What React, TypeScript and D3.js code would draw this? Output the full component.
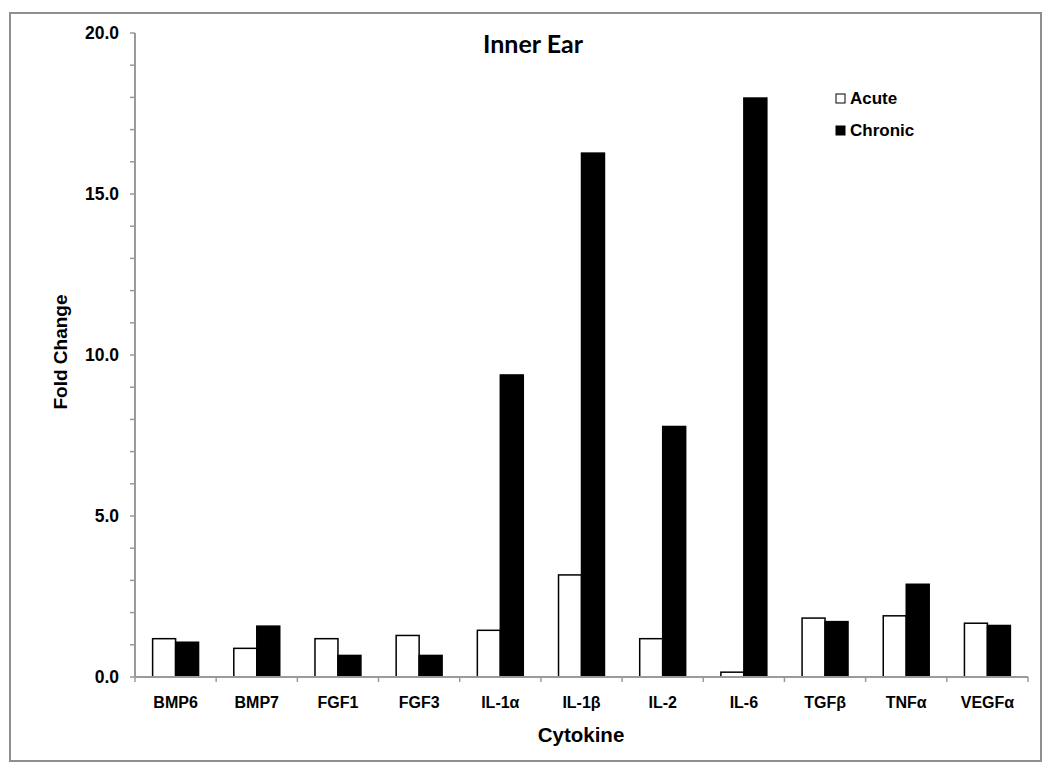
import React from "react";
import * as d3 from "d3";

const categories = ["BMP6", "BMP7", "FGF1", "FGF3", "IL-1α", "IL-1β", "IL-2", "IL-6", "TGFβ", "TNFα", "VEGFα"];
const acute = [1.19, 0.89, 1.19, 1.29, 1.45, 3.17, 1.19, 0.15, 1.83, 1.9, 1.67];
const chronic = [1.08, 1.58, 0.67, 0.67, 9.38, 16.27, 7.78, 17.98, 1.72, 2.88, 1.6];
const yTickLabels = [0, 5, 10, 15, 20];
const seriesNames = ["Acute", "Chronic"];

const W = 1050;
const H = 773;
const M = { left: 135, right: 1028, top: 33, bottom: 677 };

export default function App() {
  const x = d3.scaleBand<string>().domain(categories).range([M.left, M.right]).paddingInner(0).paddingOuter(0);
  const y = d3.scaleLinear().domain([0, 20]).range([M.bottom, M.top]);
  const bw = x.bandwidth();
  const barW = bw * 0.283;
  const off = (bw - 2 * barW) / 2;
  const minor = d3.range(0, 21, 1);
  const axisColor = "#9a9a9a";
  const tickFont = "'Liberation Sans', Arial, sans-serif";
  const titleFont = "Lato, 'Open Sans', sans-serif";

  return (
    <svg width={W} height={H} style={{ position: "absolute", left: 0, top: 0 }} fontFamily={tickFont}>
      <rect x={0} y={0} width={W} height={H} fill="#fff" />
      <rect x={10} y={13} width={1031} height={748} fill="#fff" stroke="#8f8f8f" strokeWidth={2} />
      {/* bars */}
      {categories.map((c, i) => (
        <g key={c}>
          <rect x={(x(c) as number) + off} y={y(acute[i])} width={barW} height={y(0) - y(acute[i])} fill="#fff" stroke="#000" strokeWidth={1.5} />
          <rect x={(x(c) as number) + off + barW} y={y(chronic[i])} width={barW} height={y(0) - y(chronic[i])} fill="#000" stroke="#000" strokeWidth={1.5} />
        </g>
      ))}
      {/* y axis */}
      <line x1={M.left} x2={M.left} y1={y(20)} y2={y(0)} stroke={axisColor} strokeWidth={2} />
      {minor.map((v) => (
        <line key={v} x1={M.left - 5} x2={M.left} y1={y(v)} y2={y(v)} stroke={axisColor} strokeWidth={1.5} />
      ))}
      {yTickLabels.map((v) => (
        <text key={v} x={119} y={y(v)} dy="0.35em" textAnchor="end" fontSize={17.5} fontWeight="bold">
          {v.toFixed(1)}
        </text>
      ))}
      {/* x axis */}
      <line x1={M.left} x2={M.right} y1={y(0)} y2={y(0)} stroke={axisColor} strokeWidth={2} />
      {categories.map((c) => (
        <line key={"t" + c} x1={(x(c) as number) + bw} x2={(x(c) as number) + bw} y1={y(0)} y2={y(0) + 5} stroke={axisColor} strokeWidth={1.5} />
      ))}
      <line x1={M.left} x2={M.left} y1={y(0)} y2={y(0) + 5} stroke={axisColor} strokeWidth={1.5} />
      {categories.map((c) => (
        <text key={"l" + c} x={(x(c) as number) + bw / 2} y={708} textAnchor="middle" fontSize={16} fontWeight="bold">
          {c}
        </text>
      ))}
      {/* titles */}
      <text x={533} y={53} textAnchor="middle" fontSize={25} fontWeight="bold" fontFamily={titleFont}>Inner Ear</text>
      <text x={581} y={742} textAnchor="middle" fontSize={20.5} fontWeight="bold">Cytokine</text>
      <text transform={`translate(67,352) rotate(-90)`} textAnchor="middle" fontSize={19} fontWeight="bold">Fold Change</text>
      {/* legend */}
      {seriesNames.map((s, i) => (
        <g key={s} transform={`translate(836,${94 + i * 32})`}>
          <rect x={0} y={0} width={9} height={9} fill={i === 0 ? "#fff" : "#000"} stroke="#000" strokeWidth={1} />
          <text x={14} y={9.5} fontSize={17} fontWeight="bold">{s}</text>
        </g>
      ))}
    </svg>
  );
}
